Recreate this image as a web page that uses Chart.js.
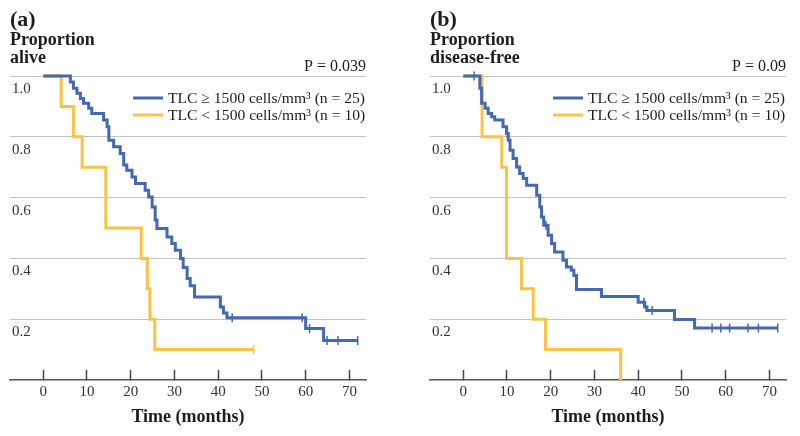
<!DOCTYPE html>
<html>
<head>
<meta charset="utf-8">
<title>TLC survival</title>
<script src="https://cdn.jsdelivr.net/npm/chart.js@4.4.1/dist/chart.umd.min.js"></script>
<style>
  body { margin: 0; background: #fff; }
  .panel { position: absolute; top: 0; width: 380px; height: 436px; }
</style>
</head>
<body>
<div class="panel" style="left: 0"><canvas id="chart_a"></canvas></div>
<div class="panel" style="left: 420px"><canvas id="chart_b"></canvas></div>

<script>
  // data (months, proportion)
  const labelHigh = 'TLC \u2265 1500 cells/mm\u00b3 (n = 25)';
  const labelLow = 'TLC < 1500 cells/mm\u00b3 (n = 10)';
  const xTicks = [0, 10, 20, 30, 40, 50, 60, 70];
  const yTicks = [0.2, 0.4, 0.6, 0.8, 1.0];

  // (a) proportion alive
  const aHighT = [0, 6.2, 6.9, 7.7, 8.5, 9.2, 10.4, 11.1, 13.8, 14.6, 15.0, 16.1, 17.6, 18.4, 19.1, 20.3, 21.1, 23.3, 24.1, 24.9, 25.6, 26.0, 28.3, 29.4, 30.2, 31.4, 32.0, 32.9, 33.6, 34.6, 40.5, 41.2, 42.0, 60.0, 64.1, 71.9];
  const aHighS = [1.0, 0.98, 0.96, 0.943, 0.926, 0.91, 0.894, 0.877, 0.855, 0.833, 0.789, 0.767, 0.745, 0.707, 0.69, 0.668, 0.646, 0.624, 0.602, 0.569, 0.526, 0.498, 0.47, 0.449, 0.427, 0.40, 0.37, 0.334, 0.31, 0.273, 0.24, 0.22, 0.205, 0.169, 0.13, 0.13];
  const aHighCensT = [43.2, 59.2, 60.9, 64.9, 67.4, 71.9];
  const aHighCensS = [0.205, 0.205, 0.169, 0.13, 0.13, 0.13];
  const aLowT = [0, 4.1, 6.9, 8.9, 14.3, 22.4, 23.8, 24.4, 25.5, 48.1];
  const aLowS = [1.0, 0.9, 0.8, 0.7, 0.5, 0.4, 0.3, 0.2, 0.1, 0.1];
  const aLowCensT = [48.1];
  const aLowCensS = [0.1];

  // (b) proportion disease-free
  const bHighT = [0, 3.8, 4.2, 5.0, 5.7, 6.5, 7.2, 9.1, 9.9, 10.3, 10.7, 11.4, 12.2, 12.9, 13.7, 14.5, 16.8, 17.5, 17.9, 18.4, 19.4, 20.2, 20.9, 22.8, 23.6, 24.7, 25.3, 25.9, 31.6, 40.0, 41.5, 42.0, 48.3, 52.9, 71.9];
  const bHighS = [1.0, 0.96, 0.91, 0.894, 0.877, 0.866, 0.855, 0.833, 0.811, 0.789, 0.756, 0.729, 0.701, 0.679, 0.663, 0.641, 0.608, 0.569, 0.536, 0.509, 0.476, 0.449, 0.421, 0.394, 0.372, 0.361, 0.344, 0.298, 0.275, 0.256, 0.24, 0.229, 0.199, 0.171, 0.171];
  const bHighCensT = [2.5, 10.1, 18.9, 41.3, 43.2, 56.9, 58.9, 60.9, 65.1, 67.5, 71.9];
  const bHighCensS = [1.0, 0.811, 0.509, 0.256, 0.229, 0.171, 0.171, 0.171, 0.171, 0.171, 0.171];
  const bLowT = [0, 4.3, 8.8, 9.9, 13.3, 16.0, 18.8, 36.0];
  const bLowS = [1.0, 0.8, 0.7, 0.4, 0.3, 0.2, 0.1, 0.0];
  const bLowCensT = [];
  const bLowCensS = [];

  const BLUE = '#4468b1';
  const YELLOW = '#f9c446';
  const SERIF = "'Liberation Serif', 'Times New Roman', serif";

  function points(ts, ss) {
    return ts.map((t, i) => ({x: t, y: ss[i]}));
  }

  // headings, p value and legend are painted on top of the chart
  const panelText = {
    id: 'panelText',
    afterDraw(chart, args, opts) {
      const {ctx, chartArea} = chart;
      const left = chartArea.left;
      ctx.save();
      ctx.fillStyle = '#1d1d1d';
      ctx.textBaseline = 'middle';
      ctx.textAlign = 'left';
      ctx.font = `bold 22px ${SERIF}`;
      ctx.fillText(opts.letter, left, 20);
      ctx.font = `bold 18px ${SERIF}`;
      opts.ylabel.forEach((line, i) => ctx.fillText(line, left, 40 + i * 18));
      ctx.font = `16px ${SERIF}`;
      ctx.textAlign = 'right';
      ctx.fillText(opts.pvalue, chartArea.right, 67);
      ctx.textAlign = 'left';
      ctx.font = `15.6px ${SERIF}`;
      opts.legend.forEach((item, i) => {
        const y = 98 + i * 17;
        ctx.strokeStyle = item.color;
        ctx.lineWidth = 3;
        ctx.beginPath();
        ctx.moveTo(left + 123, y);
        ctx.lineTo(left + 153, y);
        ctx.stroke();
        ctx.fillText(item.text, left + 158, y + 1);
      });
      ctx.restore();
    }
  };

  function makeChart(id, d, text) {
    const line = (data, color) => ({
      data, showLine: true, stepped: 'before', borderColor: color,
      borderWidth: 3, pointRadius: 0, clip: false
    });
    const cens = (data, color) => ({
      data, showLine: false, pointStyle: 'line', rotation: 90, pointRadius: 4.5,
      borderColor: color, borderWidth: 1.5, clip: false
    });

    new Chart(document.getElementById(id), {
      type: 'scatter',
      data: {
        datasets: [
          line(points(d.highT, d.highS), BLUE),
          cens(points(d.highCensT, d.highCensS), BLUE),
          line(points(d.lowT, d.lowS), YELLOW),
          cens(points(d.lowCensT, d.lowCensS), YELLOW)
        ]
      },
      options: {
        animation: false,
        responsive: true,
        maintainAspectRatio: false,
        layout: {padding: {left: 6, right: 14, top: 76, bottom: 7.4}},
        plugins: {
          legend: {display: false},
          tooltip: {enabled: false},
          panelText: text
        },
        scales: {
          x: {
            type: 'linear',
            min: -7.6,
            max: 73.8,
            afterBuildTicks: s => { s.ticks = xTicks.map(v => ({value: v})); },
            ticks: {
              padding: 13, color: '#333', maxRotation: 0,
              font: {family: SERIF, size: 15}
            },
            grid: {drawOnChartArea: false, tickLength: -10, tickColor: '#444', tickWidth: 1.5},
            border: {color: '#555', width: 1.5},
            title: {
              display: true, text: 'Time (months)', color: '#1d1d1d',
              font: {family: SERIF, size: 18, weight: 'bold'},
              padding: {top: -7, bottom: 0}
            }
          },
          y: {
            min: 0,
            max: 1,
            afterBuildTicks: s => { s.ticks = [0].concat(yTicks).map(v => ({value: v})); },
            ticks: {
              mirror: true, padding: 2, labelOffset: 13, color: '#333',
              font: {family: SERIF, size: 15},
              callback: v => v === 0 ? '' : v.toFixed(1)
            },
            grid: {
              drawTicks: false, lineWidth: 1,
              color: c => c.tick && c.tick.value === 0 ? 'rgba(0,0,0,0)' : '#c4c4c4'
            },
            border: {display: false}
          }
        }
      },
      plugins: [panelText]
    });
  }

  const legendItems = [
    {text: labelHigh, color: BLUE},
    {text: labelLow, color: YELLOW}
  ];

  makeChart('chart_a', {
    highT: aHighT, highS: aHighS, highCensT: aHighCensT, highCensS: aHighCensS,
    lowT: aLowT, lowS: aLowS, lowCensT: aLowCensT, lowCensS: aLowCensS
  }, {letter: '(a)', ylabel: ['Proportion', 'alive'], pvalue: 'P = 0.039', legend: legendItems});

  makeChart('chart_b', {
    highT: bHighT, highS: bHighS, highCensT: bHighCensT, highCensS: bHighCensS,
    lowT: bLowT, lowS: bLowS, lowCensT: bLowCensT, lowCensS: bLowCensS
  }, {letter: '(b)', ylabel: ['Proportion', 'disease-free'], pvalue: 'P = 0.09', legend: legendItems});
</script>
</body>
</html>
